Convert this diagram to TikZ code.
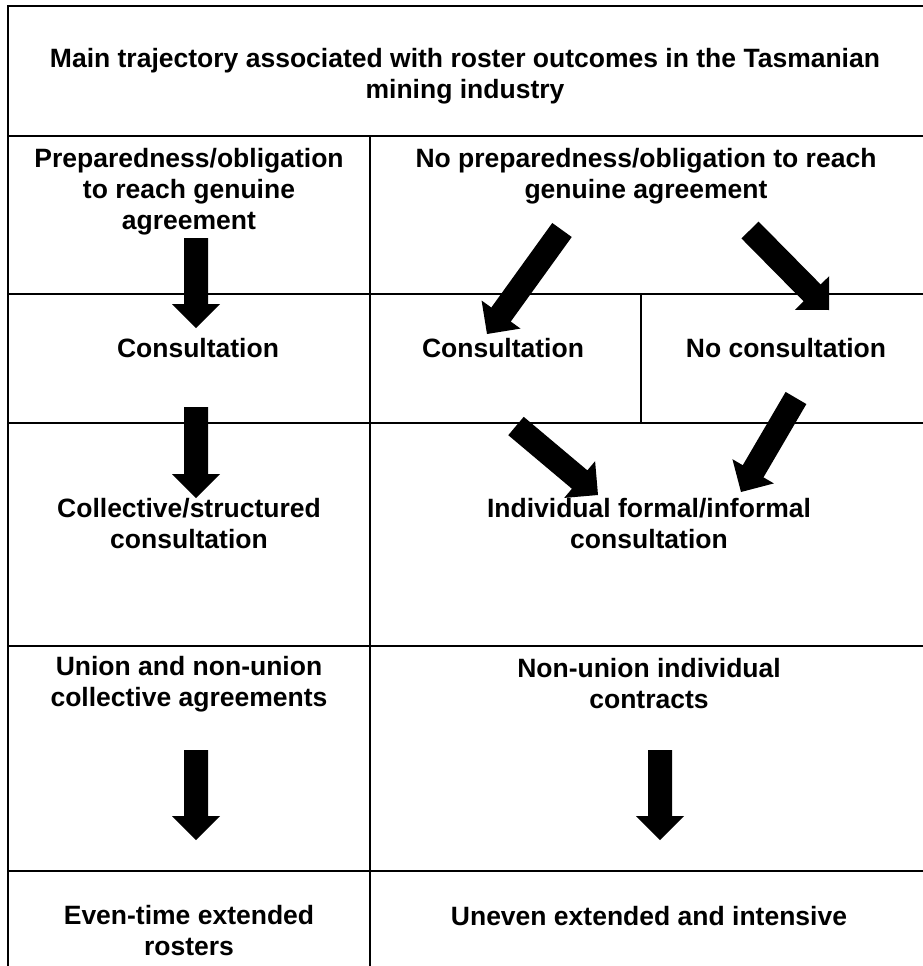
\documentclass[tikz,border=0pt]{standalone}
\usepackage{fontspec}
\setmainfont{Liberation Sans}
\usetikzlibrary{calc}
\newcommand\blockarrow[2]{%
  \coordinate (#1-b) at ($(#2)!24pt!(#1)$);
  \fill[black] ($(#1)!12pt!90:(#2)$) -- ($(#1-b)!12pt!90:(#2)$) -- ($(#1-b)!24pt!90:(#2)$) -- (#2)
    -- ($(#1-b)!24pt!-90:(#2)$) -- ($(#1-b)!12pt!-90:(#2)$) -- ($(#1)!12pt!-90:(#2)$) -- cycle;
}
\begin{document}
\begin{tikzpicture}[x=1pt,y=-1pt,
  grid/.style={line width=2pt,line cap=rect},
  lbl/.style={font=\bfseries\fontsize{26.5}{31}\selectfont,align=center,inner sep=0pt}]
\useasboundingbox (0,0) rectangle (923,966);
% table lines
\draw[grid] (923,6) -- (8,6) -- (8,966);
\foreach \yy in {136,294,423,646,871} \draw[grid] (8,\yy) -- (923,\yy);
\draw[grid] (370,136) -- (370,966);
\draw[grid] (641,294) -- (641,423);
% texts
\node[lbl] (title) at (465,76) {Main trajectory associated with roster outcomes in the Tasmanian\\mining industry};
\node[lbl] (prep) at (189,192) {Preparedness/obligation\\to reach genuine\\agreement};
\node[lbl] (noprep) at (646,176) {No preparedness/obligation to reach\\genuine agreement};
\node[lbl] (cons1) at (198,348) {Consultation};
\node[lbl] (cons2) at (503,348) {Consultation};
\node[lbl] (nocons) at (786,348) {No consultation};
\node[lbl] (coll) at (189,524) {Collective/structured\\consultation};
\node[lbl] (indiv) at (649,524) {Individual formal/informal\\consultation};
\node[lbl] (union) at (189,684) {Union and non-union\\collective agreements};
\node[lbl] (nonunion) at (649,684) {Non-union individual\\contracts};
\node[lbl] (even) at (189,931) {Even-time extended\\rosters};
\node[lbl] (uneven) at (649,916) {Uneven extended and intensive};
% arrows
\coordinate (a1t) at (196,238); \coordinate (a1h) at (196,328);
\coordinate (a2t) at (196,407); \coordinate (a2h) at (196,498);
\coordinate (a3t) at (562,230); \coordinate (a3h) at (487,334);
\coordinate (a4t) at (750,230); \coordinate (a4h) at (829,310);
\coordinate (a5t) at (516,426); \coordinate (a5h) at (598,495);
\coordinate (a6t) at (796,398); \coordinate (a6h) at (741,492);
\coordinate (a7t) at (196,750); \coordinate (a7h) at (196,840);
\coordinate (a8t) at (660,750); \coordinate (a8h) at (660,840);
\blockarrow{a1t}{a1h}
\blockarrow{a2t}{a2h}
\blockarrow{a3t}{a3h}
\blockarrow{a4t}{a4h}
\blockarrow{a5t}{a5h}
\blockarrow{a6t}{a6h}
\blockarrow{a7t}{a7h}
\blockarrow{a8t}{a8h}
\end{tikzpicture}
\end{document}
